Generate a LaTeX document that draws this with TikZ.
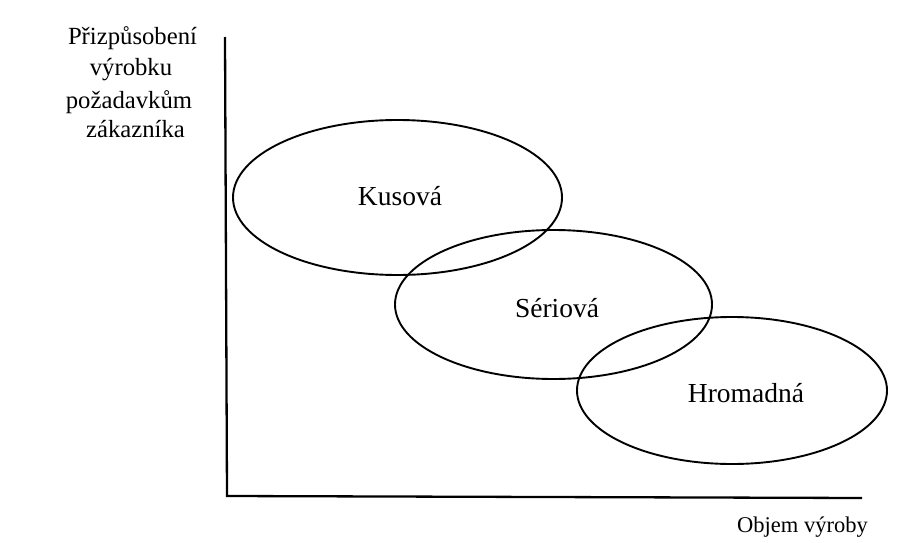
\documentclass[tikz,border=0pt]{standalone}
\usepackage{fontspec}
\setmainfont{Liberation Serif}
\usetikzlibrary{shapes.geometric}
\begin{document}
\begin{tikzpicture}[x=1pt,y=-1pt,
  axisline/.style={line width=2.3pt,line join=miter},
  oval/.style={draw,ellipse,line width=1.9pt,inner sep=0pt},
  ylab/.style={anchor=base,inner sep=0pt,font=\fontsize{24.7}{30}\selectfont},
  olab/.style={anchor=base,inner sep=0pt,font=\fontsize{27.5}{33}\selectfont},
  xlab/.style={anchor=base east,inner sep=0pt,font=\fontsize{22.5}{27}\selectfont}]
\useasboundingbox[fill=white] (0,0) rectangle (908,543);
% axes
\coordinate (ytop) at (225,37);
\coordinate (orig) at (227,496);
\coordinate (xend) at (862,498);
\draw[axisline] (ytop) -- (orig) -- (xend);
% ellipses
\node[oval,minimum width=329pt,minimum height=155pt] (kus) at (397.5,197.5) {};
\node[oval,minimum width=317pt,minimum height=149pt] (ser) at (553.5,304.5) {};
\node[oval,minimum width=310pt,minimum height=147pt] (hro) at (732,390.5) {};
% ellipse labels
\node[olab] (kusl) at (400,205) {Kusová};
\node[olab] (serl) at (557,317) {Sériová};
\node[olab] (hrol) at (746,402) {Hromadná};
% axis labels
\node[ylab] (y1) at (132.5,45) {Přizpůsobení};
\node[ylab] (y2) at (131,76) {výrobku};
\node[ylab] (y3) at (129,108) {požadavkům};
\node[ylab] (y4) at (135.5,137) {zákazníka};
\node[xlab] (xl) at (868,532) {Objem výroby};
\end{tikzpicture}
\end{document}
